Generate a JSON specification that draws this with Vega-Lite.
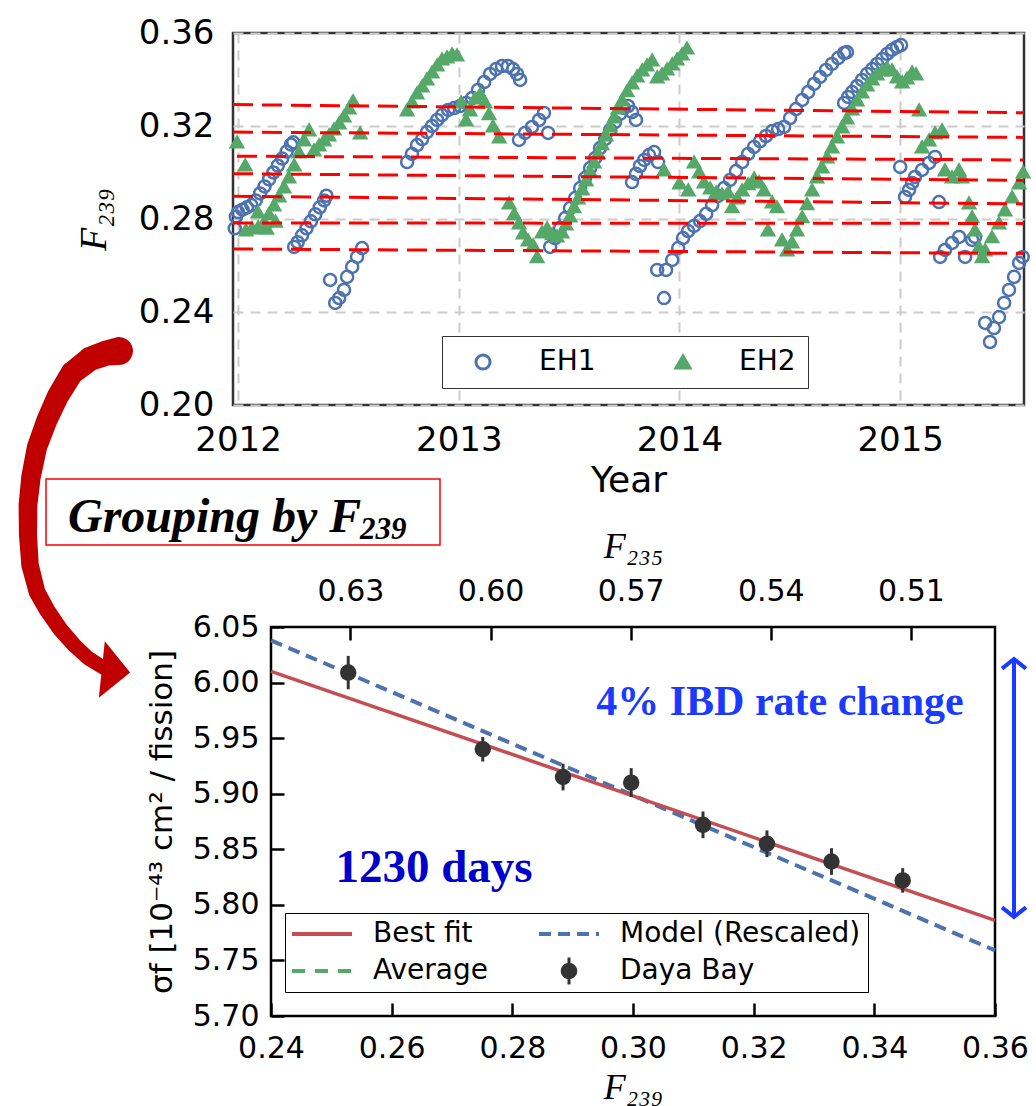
{
  "$schema": "https://vega.github.io/schema/vega-lite/v6.json",
  "padding": {"left": 17, "top": 14, "right": 5, "bottom": 5},
  "background": "white",
  "bounds": "flush",
  "spacing": 222,
  "config": {
    "font": "DejaVu Sans",
    "view": {"stroke": null},
    "axis": {"labelColor": "#000000", "titleColor": "#000000", "labelFont": "DejaVu Sans", "titleFont": "DejaVu Sans", "titleFontWeight": "normal", "domain": false},
    "legend": {"labelColor": "#000000", "labelFont": "DejaVu Sans", "labelLimit": 400}
  },
  "vconcat": [
    {
      "width": 791,
      "height": 372,
      "view": {"stroke": "#333333", "strokeWidth": 2.5},
      "layer": [
        {
          "data": {"values": [
            {"det":"EH1","yr":2011.985,"f":0.276},{"det":"EH1","yr":2011.990,"f":0.281},{"det":"EH1","yr":2012.000,"f":0.283},{"det":"EH1","yr":2012.020,"f":0.284},{"det":"EH1","yr":2012.040,"f":0.285},{"det":"EH1","yr":2012.060,"f":0.286},{"det":"EH1","yr":2012.080,"f":0.288},{"det":"EH1","yr":2012.100,"f":0.291},{"det":"EH1","yr":2012.120,"f":0.294},{"det":"EH1","yr":2012.140,"f":0.297},{"det":"EH1","yr":2012.160,"f":0.300},{"det":"EH1","yr":2012.180,"f":0.303},{"det":"EH1","yr":2012.200,"f":0.306},{"det":"EH1","yr":2012.220,"f":0.309},{"det":"EH1","yr":2012.240,"f":0.312},{"det":"EH1","yr":2012.250,"f":0.313},
            {"det":"EH1","yr":2012.254,"f":0.268},{"det":"EH1","yr":2012.270,"f":0.270},{"det":"EH1","yr":2012.290,"f":0.273},{"det":"EH1","yr":2012.310,"f":0.276},{"det":"EH1","yr":2012.330,"f":0.279},{"det":"EH1","yr":2012.350,"f":0.282},{"det":"EH1","yr":2012.370,"f":0.285},{"det":"EH1","yr":2012.390,"f":0.288},{"det":"EH1","yr":2012.400,"f":0.290},
            {"det":"EH1","yr":2012.417,"f":0.2538},{"det":"EH1","yr":2012.440,"f":0.2439},{"det":"EH1","yr":2012.458,"f":0.2460},{"det":"EH1","yr":2012.480,"f":0.2495},{"det":"EH1","yr":2012.494,"f":0.2551},{"det":"EH1","yr":2012.517,"f":0.2594},{"det":"EH1","yr":2012.539,"f":0.2637},{"det":"EH1","yr":2012.562,"f":0.2675},
            {"det":"EH1","yr":2012.766,"f":0.3045},{"det":"EH1","yr":2012.788,"f":0.3080},{"det":"EH1","yr":2012.811,"f":0.3118},{"det":"EH1","yr":2012.834,"f":0.3144},{"det":"EH1","yr":2012.856,"f":0.3174},{"det":"EH1","yr":2012.879,"f":0.3200},{"det":"EH1","yr":2012.902,"f":0.3226},{"det":"EH1","yr":2012.924,"f":0.3247},{"det":"EH1","yr":2012.952,"f":0.3269},{"det":"EH1","yr":2012.979,"f":0.3277},{"det":"EH1","yr":2013.006,"f":0.3286},{"det":"EH1","yr":2013.033,"f":0.3299},{"det":"EH1","yr":2013.060,"f":0.3320},{"det":"EH1","yr":2013.087,"f":0.3355},{"det":"EH1","yr":2013.115,"f":0.3389},{"det":"EH1","yr":2013.142,"f":0.3424},{"det":"EH1","yr":2013.169,"f":0.3445},{"det":"EH1","yr":2013.196,"f":0.3458},{"det":"EH1","yr":2013.223,"f":0.3458},{"det":"EH1","yr":2013.246,"f":0.3445},{"det":"EH1","yr":2013.264,"f":0.3424},{"det":"EH1","yr":2013.278,"f":0.3398},
            {"det":"EH1","yr":2013.273,"f":0.3140},{"det":"EH1","yr":2013.300,"f":0.3170},{"det":"EH1","yr":2013.332,"f":0.3196},{"det":"EH1","yr":2013.364,"f":0.3226},{"det":"EH1","yr":2013.386,"f":0.3256},{"det":"EH1","yr":2013.405,"f":0.3170},
            {"det":"EH1","yr":2013.414,"f":0.2680},{"det":"EH1","yr":2013.436,"f":0.2718},{"det":"EH1","yr":2013.459,"f":0.2761},{"det":"EH1","yr":2013.482,"f":0.2804},{"det":"EH1","yr":2013.504,"f":0.2847},{"det":"EH1","yr":2013.527,"f":0.2890},{"det":"EH1","yr":2013.550,"f":0.2933},{"det":"EH1","yr":2013.572,"f":0.2976},{"det":"EH1","yr":2013.595,"f":0.3019},{"det":"EH1","yr":2013.618,"f":0.3062},{"det":"EH1","yr":2013.640,"f":0.3105},{"det":"EH1","yr":2013.663,"f":0.3144},{"det":"EH1","yr":2013.686,"f":0.3183},{"det":"EH1","yr":2013.708,"f":0.3217},{"det":"EH1","yr":2013.731,"f":0.3252},{"det":"EH1","yr":2013.749,"f":0.3277},{"det":"EH1","yr":2013.767,"f":0.3286},{"det":"EH1","yr":2013.785,"f":0.3260},{"det":"EH1","yr":2013.803,"f":0.3226},
            {"det":"EH1","yr":2013.785,"f":0.2959},{"det":"EH1","yr":2013.803,"f":0.2994},{"det":"EH1","yr":2013.821,"f":0.3028},{"det":"EH1","yr":2013.840,"f":0.3054},{"det":"EH1","yr":2013.862,"f":0.3075},{"det":"EH1","yr":2013.885,"f":0.3088},{"det":"EH1","yr":2013.903,"f":0.3045},
            {"det":"EH1","yr":2013.930,"f":0.2460},{"det":"EH1","yr":2013.899,"f":0.2581},{"det":"EH1","yr":2013.939,"f":0.2581},{"det":"EH1","yr":2013.967,"f":0.2624},{"det":"EH1","yr":2013.994,"f":0.2675},{"det":"EH1","yr":2014.016,"f":0.2718},{"det":"EH1","yr":2014.039,"f":0.2748},{"det":"EH1","yr":2014.066,"f":0.2770},{"det":"EH1","yr":2014.093,"f":0.2791},{"det":"EH1","yr":2014.121,"f":0.2822},{"det":"EH1","yr":2014.148,"f":0.2860},{"det":"EH1","yr":2014.175,"f":0.2899},{"det":"EH1","yr":2014.202,"f":0.2933},{"det":"EH1","yr":2014.229,"f":0.2968},{"det":"EH1","yr":2014.256,"f":0.3006},{"det":"EH1","yr":2014.284,"f":0.3045},{"det":"EH1","yr":2014.311,"f":0.3080},{"det":"EH1","yr":2014.338,"f":0.3110},{"det":"EH1","yr":2014.365,"f":0.3135},{"det":"EH1","yr":2014.392,"f":0.3157},{"det":"EH1","yr":2014.420,"f":0.3178},{"det":"EH1","yr":2014.447,"f":0.3187},{"det":"EH1","yr":2014.474,"f":0.3196},{"det":"EH1","yr":2014.501,"f":0.3234},{"det":"EH1","yr":2014.528,"f":0.3273},{"det":"EH1","yr":2014.556,"f":0.3312},{"det":"EH1","yr":2014.583,"f":0.3346},{"det":"EH1","yr":2014.610,"f":0.3381},{"det":"EH1","yr":2014.637,"f":0.3411},{"det":"EH1","yr":2014.664,"f":0.3441},{"det":"EH1","yr":2014.691,"f":0.3467},{"det":"EH1","yr":2014.719,"f":0.3492},{"det":"EH1","yr":2014.746,"f":0.3514},{"det":"EH1","yr":2014.759,"f":0.3518},
            {"det":"EH1","yr":2014.746,"f":0.3299},{"det":"EH1","yr":2014.764,"f":0.3325},{"det":"EH1","yr":2014.782,"f":0.3346},{"det":"EH1","yr":2014.805,"f":0.3372},{"det":"EH1","yr":2014.827,"f":0.3398},{"det":"EH1","yr":2014.850,"f":0.3424},{"det":"EH1","yr":2014.873,"f":0.3445},{"det":"EH1","yr":2014.895,"f":0.3467},{"det":"EH1","yr":2014.918,"f":0.3488},{"det":"EH1","yr":2014.941,"f":0.3510},{"det":"EH1","yr":2014.963,"f":0.3527},{"det":"EH1","yr":2014.986,"f":0.3540},{"det":"EH1","yr":2015.004,"f":0.3548},
            {"det":"EH1","yr":2015.000,"f":0.3024},{"det":"EH1","yr":2015.022,"f":0.2895},{"det":"EH1","yr":2015.040,"f":0.2925},{"det":"EH1","yr":2015.054,"f":0.2955},{"det":"EH1","yr":2015.067,"f":0.2981},{"det":"EH1","yr":2015.099,"f":0.3011},{"det":"EH1","yr":2015.131,"f":0.3041},{"det":"EH1","yr":2015.158,"f":0.3067},{"det":"EH1","yr":2015.176,"f":0.2873},
            {"det":"EH1","yr":2015.181,"f":0.2637},{"det":"EH1","yr":2015.203,"f":0.2667},{"det":"EH1","yr":2015.235,"f":0.2697},{"det":"EH1","yr":2015.267,"f":0.2723},{"det":"EH1","yr":2015.294,"f":0.2637},{"det":"EH1","yr":2015.326,"f":0.2710},{"det":"EH1","yr":2015.339,"f":0.2723},
            {"det":"EH1","yr":2015.385,"f":0.2353},{"det":"EH1","yr":2015.407,"f":0.2271},{"det":"EH1","yr":2015.425,"f":0.2331},{"det":"EH1","yr":2015.448,"f":0.2378},{"det":"EH1","yr":2015.471,"f":0.2439},{"det":"EH1","yr":2015.493,"f":0.2495},{"det":"EH1","yr":2015.516,"f":0.2551},{"det":"EH1","yr":2015.539,"f":0.2611},{"det":"EH1","yr":2015.555,"f":0.2637},
            {"det":"EH2","yr":2011.995,"f":0.3131},{"det":"EH2","yr":2012.032,"f":0.3032},{"det":"EH2","yr":2012.036,"f":0.2753},{"det":"EH2","yr":2012.063,"f":0.2761},{"det":"EH2","yr":2012.091,"f":0.2766},{"det":"EH2","yr":2012.090,"f":0.2830},{"det":"EH2","yr":2012.118,"f":0.2787},{"det":"EH2","yr":2012.130,"f":0.2760},{"det":"EH2","yr":2012.140,"f":0.2822},{"det":"EH2","yr":2012.163,"f":0.2860},{"det":"EH2","yr":2012.170,"f":0.2790},{"det":"EH2","yr":2012.186,"f":0.2899},{"det":"EH2","yr":2012.208,"f":0.2938},{"det":"EH2","yr":2012.231,"f":0.2981},{"det":"EH2","yr":2012.254,"f":0.3032},{"det":"EH2","yr":2012.276,"f":0.3088},{"det":"EH2","yr":2012.299,"f":0.3140},{"det":"EH2","yr":2012.322,"f":0.3183},{"det":"EH2","yr":2012.344,"f":0.3097},{"det":"EH2","yr":2012.367,"f":0.3118},{"det":"EH2","yr":2012.390,"f":0.3140},{"det":"EH2","yr":2012.412,"f":0.3161},{"det":"EH2","yr":2012.435,"f":0.3187},{"det":"EH2","yr":2012.458,"f":0.3213},{"det":"EH2","yr":2012.480,"f":0.3243},{"det":"EH2","yr":2012.503,"f":0.3277},{"det":"EH2","yr":2012.521,"f":0.3308},{"det":"EH2","yr":2012.553,"f":0.3170},
            {"det":"EH2","yr":2012.766,"f":0.3269},{"det":"EH2","yr":2012.788,"f":0.3303},{"det":"EH2","yr":2012.811,"f":0.3342},{"det":"EH2","yr":2012.834,"f":0.3372},{"det":"EH2","yr":2012.856,"f":0.3402},{"det":"EH2","yr":2012.879,"f":0.3432},{"det":"EH2","yr":2012.902,"f":0.3462},{"det":"EH2","yr":2012.924,"f":0.3488},{"det":"EH2","yr":2012.947,"f":0.3497},{"det":"EH2","yr":2012.970,"f":0.3510},{"det":"EH2","yr":2012.992,"f":0.3505},{"det":"EH2","yr":2013.010,"f":0.3303},{"det":"EH2","yr":2013.033,"f":0.3226},{"det":"EH2","yr":2013.051,"f":0.3269},{"det":"EH2","yr":2013.074,"f":0.3320},{"det":"EH2","yr":2013.097,"f":0.3338},{"det":"EH2","yr":2013.119,"f":0.3303},{"det":"EH2","yr":2013.137,"f":0.3252},{"det":"EH2","yr":2013.155,"f":0.3200},{"det":"EH2","yr":2013.183,"f":0.3153},
            {"det":"EH2","yr":2013.228,"f":0.2869},{"det":"EH2","yr":2013.251,"f":0.2822},{"det":"EH2","yr":2013.273,"f":0.2783},{"det":"EH2","yr":2013.291,"f":0.2740},{"det":"EH2","yr":2013.314,"f":0.2710},{"det":"EH2","yr":2013.337,"f":0.2688},{"det":"EH2","yr":2013.355,"f":0.2637},{"det":"EH2","yr":2013.377,"f":0.2744},{"det":"EH2","yr":2013.400,"f":0.2761},{"det":"EH2","yr":2013.423,"f":0.2736},{"det":"EH2","yr":2013.445,"f":0.2727},{"det":"EH2","yr":2013.468,"f":0.2744},{"det":"EH2","yr":2013.486,"f":0.2778},{"det":"EH2","yr":2013.504,"f":0.2813},{"det":"EH2","yr":2013.522,"f":0.2852},{"det":"EH2","yr":2013.541,"f":0.2890},{"det":"EH2","yr":2013.559,"f":0.2929},{"det":"EH2","yr":2013.577,"f":0.2968},{"det":"EH2","yr":2013.595,"f":0.3006},{"det":"EH2","yr":2013.613,"f":0.3045},{"det":"EH2","yr":2013.631,"f":0.3084},{"det":"EH2","yr":2013.649,"f":0.3123},{"det":"EH2","yr":2013.667,"f":0.3161},{"det":"EH2","yr":2013.686,"f":0.3200},{"det":"EH2","yr":2013.704,"f":0.3239},{"det":"EH2","yr":2013.722,"f":0.3277},{"det":"EH2","yr":2013.740,"f":0.3312},{"det":"EH2","yr":2013.763,"f":0.3351},{"det":"EH2","yr":2013.785,"f":0.3385},{"det":"EH2","yr":2013.808,"f":0.3415},{"det":"EH2","yr":2013.831,"f":0.3441},{"det":"EH2","yr":2013.853,"f":0.3462},{"det":"EH2","yr":2013.876,"f":0.3484},{"det":"EH2","yr":2013.899,"f":0.3411},{"det":"EH2","yr":2013.921,"f":0.3424},{"det":"EH2","yr":2013.944,"f":0.3445},{"det":"EH2","yr":2013.967,"f":0.3467},{"det":"EH2","yr":2013.989,"f":0.3488},{"det":"EH2","yr":2014.012,"f":0.3510},{"det":"EH2","yr":2014.034,"f":0.3535},
            {"det":"EH2","yr":2013.930,"f":0.3011},{"det":"EH2","yr":2014.000,"f":0.2955},{"det":"EH2","yr":2014.040,"f":0.2925},{"det":"EH2","yr":2014.066,"f":0.3045},{"det":"EH2","yr":2014.089,"f":0.3002},{"det":"EH2","yr":2014.111,"f":0.2959},{"det":"EH2","yr":2014.139,"f":0.2933},{"det":"EH2","yr":2014.166,"f":0.2916},{"det":"EH2","yr":2014.193,"f":0.2908},{"det":"EH2","yr":2014.220,"f":0.2916},{"det":"EH2","yr":2014.238,"f":0.2852},{"det":"EH2","yr":2014.261,"f":0.2890},{"det":"EH2","yr":2014.284,"f":0.2925},{"det":"EH2","yr":2014.311,"f":0.2951},{"det":"EH2","yr":2014.338,"f":0.2976},{"det":"EH2","yr":2014.361,"f":0.2959},{"det":"EH2","yr":2014.383,"f":0.2925},{"det":"EH2","yr":2014.401,"f":0.2753},{"det":"EH2","yr":2014.420,"f":0.2873},{"det":"EH2","yr":2014.442,"f":0.2852},{"det":"EH2","yr":2014.465,"f":0.2710},{"det":"EH2","yr":2014.488,"f":0.2667},{"det":"EH2","yr":2014.510,"f":0.2701},{"det":"EH2","yr":2014.533,"f":0.2753},{"det":"EH2","yr":2014.556,"f":0.2809},{"det":"EH2","yr":2014.578,"f":0.2865},{"det":"EH2","yr":2014.601,"f":0.2925},{"det":"EH2","yr":2014.623,"f":0.2981},{"det":"EH2","yr":2014.646,"f":0.3024},{"det":"EH2","yr":2014.669,"f":0.3067},{"det":"EH2","yr":2014.691,"f":0.3110},{"det":"EH2","yr":2014.714,"f":0.3153},{"det":"EH2","yr":2014.737,"f":0.3196},{"det":"EH2","yr":2014.759,"f":0.3234},{"det":"EH2","yr":2014.782,"f":0.3273},{"det":"EH2","yr":2014.805,"f":0.3312},{"det":"EH2","yr":2014.827,"f":0.3346},{"det":"EH2","yr":2014.850,"f":0.3376},{"det":"EH2","yr":2014.873,"f":0.3402},{"det":"EH2","yr":2014.895,"f":0.3424},{"det":"EH2","yr":2014.918,"f":0.3441},{"det":"EH2","yr":2014.941,"f":0.3450},{"det":"EH2","yr":2014.963,"f":0.3441},{"det":"EH2","yr":2014.986,"f":0.3411},{"det":"EH2","yr":2015.009,"f":0.3389},{"det":"EH2","yr":2015.031,"f":0.3406},{"det":"EH2","yr":2015.054,"f":0.3432},{"det":"EH2","yr":2015.072,"f":0.3424},
            {"det":"EH2","yr":2015.086,"f":0.3269},{"det":"EH2","yr":2015.099,"f":0.3110},{"det":"EH2","yr":2015.131,"f":0.3140},{"det":"EH2","yr":2015.158,"f":0.3170},{"det":"EH2","yr":2015.190,"f":0.3183},{"det":"EH2","yr":2015.203,"f":0.3011},{"det":"EH2","yr":2015.235,"f":0.2981},{"det":"EH2","yr":2015.267,"f":0.3011},{"det":"EH2","yr":2015.280,"f":0.2981},{"det":"EH2","yr":2015.312,"f":0.2869},{"det":"EH2","yr":2015.326,"f":0.2809},{"det":"EH2","yr":2015.339,"f":0.2753},{"det":"EH2","yr":2015.357,"f":0.2680},{"det":"EH2","yr":2015.371,"f":0.2637},{"det":"EH2","yr":2015.385,"f":0.2667},{"det":"EH2","yr":2015.416,"f":0.2723},{"det":"EH2","yr":2015.448,"f":0.2783},{"det":"EH2","yr":2015.475,"f":0.2839},{"det":"EH2","yr":2015.507,"f":0.2895},{"det":"EH2","yr":2015.539,"f":0.2955},{"det":"EH2","yr":2015.557,"f":0.3002}
          ]},
          "mark": {"type": "point", "opacity": 1, "strokeWidth": 2.5, "size": 145},
          "encoding": {
            "x": {"field": "yr", "type": "quantitative",
              "scale": {"domain": [2011.977, 2015.561], "nice": false, "zero": false},
              "axis": {"values": [2012, 2013, 2014, 2015], "format": "d", "title": "Year", "titleFontSize": 36, "titlePadding": 6, "labelFontSize": 34, "labelPadding": 18, "labelFlush": false, "ticks": false, "grid": true, "gridColor": "#CCCCCC", "gridDash": [10, 7], "gridWidth": 2}},
            "y": {"field": "f", "type": "quantitative",
              "scale": {"domain": [0.2, 0.36], "nice": false, "zero": false},
              "axis": {"values": [0.2, 0.24, 0.28, 0.32, 0.36], "format": ".2f", "title": "F₂₃₉", "titleFont": "Liberation Serif", "titleFontStyle": "italic", "titleFontSize": 38, "titlePadding": 25, "labelFontSize": 34, "labelPadding": 19, "ticks": false, "grid": true, "gridColor": "#CCCCCC", "gridDash": [10, 7], "gridWidth": 2}},
            "shape": {"field": "det", "type": "nominal", "scale": {"domain": ["EH1", "EH2"], "range": ["circle", "triangle-up"]},
              "legend": {"title": null, "orient": "none", "legendX": 209, "legendY": 303, "direction": "horizontal", "columns": 2, "padding": 12, "strokeColor": "#333333", "fillColor": "white", "labelFontSize": 28, "symbolSize": 200, "symbolStrokeWidth": 3, "symbolOffset": 15, "labelOffset": 42, "columnPadding": 58}},
            "stroke": {"field": "det", "type": "nominal", "scale": {"domain": ["EH1", "EH2"], "range": ["#4C72B0", "#55A868"]},
              "legend": {"title": null, "orient": "none", "legendX": 209, "legendY": 303, "direction": "horizontal", "columns": 2, "padding": 12, "strokeColor": "#333333", "fillColor": "white", "labelFontSize": 28, "symbolSize": 200, "symbolStrokeWidth": 3, "symbolOffset": 15, "labelOffset": 42, "columnPadding": 58}},
            "fill": {"field": "det", "type": "nominal", "scale": {"domain": ["EH1", "EH2"], "range": ["transparent", "#55A868"]},
              "legend": {"title": null, "orient": "none", "legendX": 209, "legendY": 303, "direction": "horizontal", "columns": 2, "padding": 12, "strokeColor": "#333333", "fillColor": "white", "labelFontSize": 28, "symbolSize": 200, "symbolStrokeWidth": 3, "symbolOffset": 15, "labelOffset": 42, "columnPadding": 58}}
          }
        },
        {
          "data": {"values": [
            {"x0": 2011.977, "a": 0.3292, "b": 0.3257},
            {"x0": 2011.977, "a": 0.3174, "b": 0.3151},
            {"x0": 2011.995, "a": 0.3070, "b": 0.3054},
            {"x0": 2011.977, "a": 0.2995, "b": 0.2966},
            {"x0": 2011.977, "a": 0.2898, "b": 0.2865},
            {"x0": 2011.977, "a": 0.2783, "b": 0.2781},
            {"x0": 2011.977, "a": 0.2671, "b": 0.2652}
          ]},
          "mark": {"type": "rule", "color": "#FF0000", "strokeWidth": 3, "strokeDash": [20, 9]},
          "encoding": {
            "x": {"field": "x0", "type": "quantitative"},
            "x2": {"datum": 2015.561},
            "y": {"field": "a", "type": "quantitative"},
            "y2": {"field": "b"}
          }
        }
      ]
    },
    {
      "hconcat": [
        {
          "width": 38,
          "height": 389,
          "data": {"values": [{"v": 0}]},
          "mark": {"type": "point", "opacity": 0},
          "encoding": {}
        },
        {
          "width": 724,
          "height": 389,
          "view": {"stroke": "#000000", "strokeWidth": 2.5},
          "resolve": {"scale": {"x": "independent"}, "axis": {"x": "independent"}},
          "layer": [
            {
              "layer": [
                {
                  "mark": {"type": "rule", "strokeWidth": 4, "strokeDash": [13, 10]},
                  "encoding": {
                    "y": {"datum": 5.9, "type": "quantitative", "title": "σf [10⁻⁴³ cm² / fission]"},
                    "color": {"datum": "Average", "type": "nominal"}
                  }
                },
                {
                  "data": {"values": [{"f239": 0.24, "s": 6.038}, {"f239": 0.36, "s": 5.759}]},
                  "mark": {"type": "line", "strokeWidth": 4, "strokeDash": [12, 7]},
                  "encoding": {
                    "x": {"field": "f239", "type": "quantitative", "title": "F₂₃₉"},
                    "y": {"field": "s", "type": "quantitative", "title": "σf [10⁻⁴³ cm² / fission]"},
                    "color": {"datum": "Model (Rescaled)", "type": "nominal"}
                  }
                },
                {
                  "data": {"values": [{"f239": 0.24, "s": 6.010}, {"f239": 0.36, "s": 5.786}]},
                  "mark": {"type": "line", "strokeWidth": 3.5},
                  "encoding": {
                    "x": {"field": "f239", "type": "quantitative", "title": "F₂₃₉",
                      "scale": {"domain": [0.24, 0.36], "nice": false, "zero": false},
                      "axis": {"values": [0.24, 0.26, 0.28, 0.3, 0.32, 0.34, 0.36], "format": ".2f", "title": "F₂₃₉", "titleFont": "Liberation Serif", "titleFontStyle": "italic", "titleFontSize": 36, "titlePadding": 7, "labelFontSize": 30, "labelPadding": 30, "labelFlush": false, "tickSize": -13, "tickWidth": 2.5, "tickColor": "#000000", "grid": false}},
                    "y": {"field": "s", "type": "quantitative", "title": "σf [10⁻⁴³ cm² / fission]",
                      "scale": {"domain": [5.7, 6.05], "nice": false, "zero": false},
                      "axis": {"values": [5.7, 5.75, 5.8, 5.85, 5.9, 5.95, 6.0, 6.05], "format": ".2f", "title": "σf [10⁻⁴³ cm² / fission]", "titleFontSize": 31, "titlePadding": 14, "labelFontSize": 30, "labelPadding": 25, "tickSize": -13, "tickWidth": 2.5, "tickColor": "#000000", "grid": false}},
                    "color": {"datum": "Best fit", "type": "nominal",
                      "scale": {"domain": ["Best fit", "Model (Rescaled)", "Average", "Daya Bay"], "range": ["#C44E52", "#4C72B0", "#55A868", "#333333"]},
                      "legend": {"title": null, "orient": "none", "legendX": 52, "legendY": 880, "direction": "horizontal", "columns": 2, "padding": 7, "rowPadding": 9, "columnPadding": 43, "strokeColor": "#000000", "fillColor": "white", "labelFontSize": 28, "labelLimit": 400, "symbolSize": 900, "symbolStrokeWidth": 4, "symbolOffset": 16, "labelOffset": 37,
                        "encode": {"symbols": {"update": {
                          "shape": {"signal": "datum.value === 'Daya Bay' ? 'M-0.55,0 A0.55,0.55 0 1,1 0.55,0 A0.55,0.55 0 1,1 -0.55,0 Z M-0.1,-0.9 L0.1,-0.9 L0.1,0.9 L-0.1,0.9 Z' : 'M-2,0 L2,0'"},
                          "strokeDash": {"signal": "datum.value === 'Model (Rescaled)' ? [12, 7] : (datum.value === 'Average' ? [13, 10] : [])"},
                          "fill": {"signal": "datum.value === 'Daya Bay' ? '#333333' : 'transparent'"},
                          "stroke": {"signal": "datum.value === 'Best fit' ? '#C44E52' : (datum.value === 'Model (Rescaled)' ? '#4C72B0' : (datum.value === 'Average' ? '#55A868' : '#333333'))"},
                          "strokeWidth": {"signal": "datum.value === 'Daya Bay' ? 0 : 4"},
                          "opacity": {"value": 1},
                          "fillOpacity": {"value": 1}
                        }}}}}
                  }
                },
                {
                  "data": {"values": [
                    {"f239": 0.2528, "s": 6.009, "e": 0.015},
                    {"f239": 0.2751, "s": 5.940, "e": 0.011},
                    {"f239": 0.2884, "s": 5.915, "e": 0.012},
                    {"f239": 0.2997, "s": 5.910, "e": 0.013},
                    {"f239": 0.3116, "s": 5.872, "e": 0.012},
                    {"f239": 0.3222, "s": 5.855, "e": 0.012},
                    {"f239": 0.3329, "s": 5.839, "e": 0.012},
                    {"f239": 0.3447, "s": 5.822, "e": 0.011}
                  ]},
                  "layer": [
                    {
                      "mark": {"type": "errorbar", "thickness": 3, "ticks": false},
                      "encoding": {
                        "x": {"field": "f239", "type": "quantitative", "title": "F₂₃₉"},
                        "y": {"field": "s", "type": "quantitative", "title": "σf [10⁻⁴³ cm² / fission]"},
                        "yError": {"field": "e"},
                        "color": {"value": "#333333"}
                      }
                    },
                    {
                      "mark": {"type": "point", "filled": true, "size": 270, "opacity": 1},
                      "encoding": {
                        "x": {"field": "f239", "type": "quantitative", "title": "F₂₃₉"},
                        "y": {"field": "s", "type": "quantitative", "title": "σf [10⁻⁴³ cm² / fission]"},
                        "color": {"datum": "Daya Bay", "type": "nominal"}
                      }
                    }
                  ]
                },
                {
                  "data": {"values": [{"f239": 0.32436, "s": 5.97082, "t": "4% IBD rate change"}]},
                  "mark": {"type": "text", "font": "Liberation Serif", "fontWeight": "bold", "fontSize": 42, "color": "#1A3BFF", "align": "center", "baseline": "alphabetic"},
                  "encoding": {"x": {"field": "f239", "type": "quantitative", "title": "F₂₃₉"}, "y": {"field": "s", "type": "quantitative", "title": "σf [10⁻⁴³ cm² / fission]"}, "text": {"field": "t"}}
                },
                {
                  "data": {"values": [{"f239": 0.26702, "s": 5.82057, "t": "1230 days"}]},
                  "mark": {"type": "text", "font": "Liberation Serif", "fontWeight": "bold", "fontSize": 47, "color": "#0000CD", "align": "center", "baseline": "alphabetic"},
                  "encoding": {"x": {"field": "f239", "type": "quantitative", "title": "F₂₃₉"}, "y": {"field": "s", "type": "quantitative", "title": "σf [10⁻⁴³ cm² / fission]"}, "text": {"field": "t"}}
                },
                {
                  "data": {"values": [{"f239": 0.36315, "s1": 6.02121, "s2": 5.78907}]},
                  "mark": {"type": "rule", "color": "#1A3BFF", "strokeWidth": 4},
                  "encoding": {"x": {"field": "f239", "type": "quantitative", "title": "F₂₃₉"}, "y": {"field": "s1", "type": "quantitative", "title": "σf [10⁻⁴³ cm² / fission]"}, "y2": {"field": "s2"}}
                },
                {
                  "data": {"values": [{"f239": 0.36315, "s": 6.02121}]},
                  "mark": {"type": "point", "shape": "M-1,0.8 L0,0 L1,0.8", "size": 576, "filled": false, "strokeWidth": 4, "color": "#1A3BFF", "opacity": 1},
                  "encoding": {"x": {"field": "f239", "type": "quantitative", "title": "F₂₃₉"}, "y": {"field": "s", "type": "quantitative", "title": "σf [10⁻⁴³ cm² / fission]"}}
                },
                {
                  "data": {"values": [{"f239": 0.36315, "s": 5.78907}]},
                  "mark": {"type": "point", "shape": "M-1,-0.8 L0,0 L1,-0.8", "size": 576, "filled": false, "strokeWidth": 4, "color": "#1A3BFF", "opacity": 1},
                  "encoding": {"x": {"field": "f239", "type": "quantitative", "title": "F₂₃₉"}, "y": {"field": "s", "type": "quantitative", "title": "σf [10⁻⁴³ cm² / fission]"}}
                },
                {
                  "data": {"values": [
                    {"p": 0, "f239": 0.21480, "s": 6.2983},
                    {"p": 1, "f239": 0.21282, "s": 6.2966},
                    {"p": 2, "f239": 0.21000, "s": 6.2912},
                    {"p": 3, "f239": 0.20702, "s": 6.2786},
                    {"p": 4, "f239": 0.20470, "s": 6.2579},
                    {"p": 5, "f239": 0.20287, "s": 6.2362},
                    {"p": 6, "f239": 0.20122, "s": 6.2120},
                    {"p": 7, "f239": 0.20022, "s": 6.1850},
                    {"p": 8, "f239": 0.19972, "s": 6.1598},
                    {"p": 9, "f239": 0.19972, "s": 6.1328},
                    {"p": 10, "f239": 0.20006, "s": 6.1058},
                    {"p": 11, "f239": 0.20122, "s": 6.0815},
                    {"p": 12, "f239": 0.20287, "s": 6.0653},
                    {"p": 13, "f239": 0.20503, "s": 6.0482},
                    {"p": 14, "f239": 0.20735, "s": 6.0338},
                    {"p": 15, "f239": 0.20967, "s": 6.0221},
                    {"p": 16, "f239": 0.21232, "s": 6.0131}
                  ]},
                  "mark": {"type": "trail", "color": "#C00000"},
                  "encoding": {
                    "x": {"field": "f239", "type": "quantitative", "title": "F₂₃₉"},
                    "y": {"field": "s", "type": "quantitative", "title": "σf [10⁻⁴³ cm² / fission]"},
                    "order": {"field": "p"},
                    "size": {"field": "p", "type": "quantitative", "scale": {"type": "pow", "exponent": 0.6, "domain": [0, 16], "range": [28, 14]}, "legend": null}
                  }
                },
                {
                  "data": {"values": [{"f239": 0.21431, "s": 6.0104}]},
                  "mark": {"type": "point", "shape": "M0.5,0 L-0.5,-1 L-0.5,1 Z", "size": 3249, "filled": true, "color": "#C00000", "opacity": 1, "angle": 6},
                  "encoding": {"x": {"field": "f239", "type": "quantitative", "title": "F₂₃₉"}, "y": {"field": "s", "type": "quantitative", "title": "σf [10⁻⁴³ cm² / fission]"}}
                },
                {
                  "data": {"values": [{"x1": 0.20271, "x2": 0.26801, "y1": 6.18316, "y2": 6.12378}]},
                  "mark": {"type": "rect", "fill": "white", "stroke": "#FF0000", "strokeWidth": 1.5},
                  "encoding": {"x": {"field": "x1", "type": "quantitative", "title": "F₂₃₉"}, "x2": {"field": "x2"}, "y": {"field": "y1", "type": "quantitative", "title": "σf [10⁻⁴³ cm² / fission]"}, "y2": {"field": "y2"}}
                },
                {
                  "data": {"values": [{"f239": 0.20635, "s": 6.13547, "t": "Grouping by F"}]},
                  "mark": {"type": "text", "font": "Liberation Serif", "fontWeight": "bold", "fontStyle": "italic", "fontSize": 48, "color": "#000000", "align": "left", "baseline": "alphabetic"},
                  "encoding": {"x": {"field": "f239", "type": "quantitative", "title": "F₂₃₉"}, "y": {"field": "s", "type": "quantitative", "title": "σf [10⁻⁴³ cm² / fission]"}, "text": {"field": "t"}}
                },
                {
                  "data": {"values": [{"f239": 0.25475, "s": 6.12918, "t": "239"}]},
                  "mark": {"type": "text", "font": "Liberation Serif", "fontWeight": "bold", "fontStyle": "italic", "fontSize": 31, "color": "#000000", "align": "left", "baseline": "alphabetic"},
                  "encoding": {"x": {"field": "f239", "type": "quantitative", "title": "F₂₃₉"}, "y": {"field": "s", "type": "quantitative", "title": "σf [10⁻⁴³ cm² / fission]"}, "text": {"field": "t"}}
                }
              ]
            },
            {
              "data": {"values": [{"f235": 0.492}, {"f235": 0.647}]},
              "mark": {"type": "point", "opacity": 0},
              "encoding": {
                "x": {"field": "f235", "type": "quantitative",
                  "scale": {"domain": [0.492, 0.647], "reverse": true, "nice": false, "zero": false},
                  "axis": {"orient": "top", "values": [0.51, 0.54, 0.57, 0.6, 0.63], "format": ".2f", "title": "F₂₃₅", "titleFont": "Liberation Serif", "titleFontStyle": "italic", "titleFontSize": 36, "titlePadding": 11, "labelFontSize": 30, "labelPadding": 34, "labelFlush": false, "tickSize": -13, "tickWidth": 2.5, "tickColor": "#000000", "grid": false}}
              }
            }
          ]
        }
      ],
      "spacing": 0,
      "bounds": "flush"
    }
  ]
}
